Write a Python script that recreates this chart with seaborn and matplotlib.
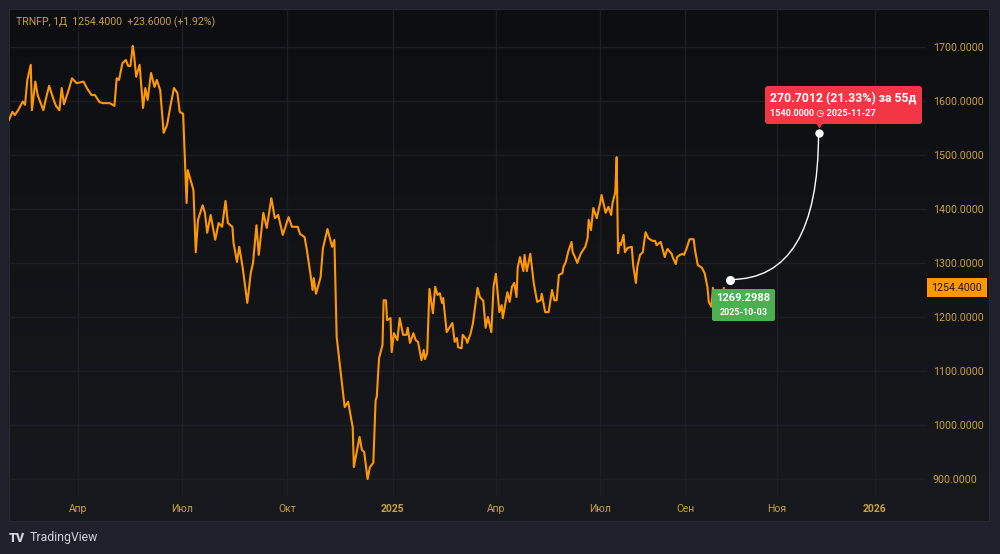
import numpy as np
import pandas as pd
import matplotlib
matplotlib.use("Agg")
import matplotlib.pyplot as plt
import matplotlib.dates as mdates
from matplotlib.ticker import FixedLocator, FuncFormatter
from matplotlib.offsetbox import AnnotationBbox, TextArea, VPacker
from matplotlib.transforms import offset_copy
from matplotlib.patches import Rectangle
from matplotlib.colors import LinearSegmentedColormap
import seaborn as sns

# ---------------- data ----------------
BASE_DATE = "2024-01-01"
# calendar day offsets from BASE_DATE of each sampled daily close
day_offsets = [
    31, 34, 36, 39, 43, 45, 47, 50, 51, 54, 56, 61, 63, 66, 70, 72, 75, 77, 79, 83,
    86, 90, 96, 99, 103, 106, 110, 113, 119, 123, 125, 127, 130, 133, 135, 137, 139, 140, 142, 145,
    148, 150, 152, 155, 158, 160, 163, 166, 169, 172, 175, 178, 180, 183,
    186, 187, 192, 194, 196, 200, 202, 204, 207, 211, 214, 217, 220, 222, 226, 227, 230, 232, 235, 239,
    242, 244, 247, 249, 253, 256, 260, 263, 266, 270, 275, 278, 283, 285, 289, 291, 294, 296, 297, 299,
    303, 305, 309, 313, 315,
    317, 321, 324, 327, 331, 332, 337, 339, 341, 344, 346, 349, 351, 352, 354, 357, 358, 360, 361, 364,
    365, 367, 370, 372, 375, 378, 379, 381, 384, 386, 388, 391, 393, 394, 396, 398, 401, 403, 405, 407,
    409, 410, 413, 418, 420, 422, 423, 426, 427, 430, 431, 434, 436, 440, 442, 445, 447, 449, 452, 454,
    456, 459,
    461, 462, 466, 468, 470, 472, 474, 475, 477, 480, 481, 483, 486, 489, 492, 495, 496, 499, 502, 505,
    507, 509, 511, 514, 515, 517, 519, 522, 523, 525, 527, 530, 534, 536, 537, 539, 541, 544, 547,
    548, 551, 553, 555, 556, 558, 559, 560, 561, 562, 564, 565, 567, 570, 571, 573, 574, 576, 578, 580,
    582, 585, 587, 588, 591, 592, 594, 595, 596, 599, 600, 602, 603, 605, 607, 608, 610, 612, 615, 616,
    618, 620, 621, 623, 625, 626, 628, 629, 630, 632, 633, 634, 636, 637,
]
close_prices = [
    1565, 1580, 1574, 1583, 1599, 1593, 1639, 1667, 1583, 1636, 1611, 1583, 1602, 1628, 1602, 1591, 1583, 1624, 1594, 1620,
    1642, 1633, 1636, 1624, 1611, 1611, 1598, 1596, 1596, 1591, 1642, 1639, 1670, 1676, 1665, 1665, 1702, 1689, 1645, 1667,
    1587, 1624, 1602, 1652, 1626, 1639, 1620, 1541, 1556, 1592, 1624, 1615, 1580, 1576,
    1411, 1472, 1435, 1320, 1380, 1407, 1393, 1356, 1389, 1343, 1374, 1367, 1415, 1374, 1367, 1337, 1302, 1330, 1291, 1226,
    1281, 1300, 1370, 1315, 1393, 1365, 1420, 1383, 1389, 1352, 1385, 1367, 1367, 1354, 1348, 1324, 1281, 1250, 1272, 1243,
    1274, 1327, 1363, 1330, 1343,
    1163, 1089, 1033, 1043, 996, 922, 978, 954, 950, 900, 922, 930, 1046, 1052, 1124, 1148, 1231, 1231, 1194, 1198,
    1135, 1170, 1157, 1198, 1167, 1167, 1180, 1152, 1170, 1157, 1154, 1120, 1139, 1122, 1133, 1252, 1207, 1256, 1241, 1244,
    1226, 1235, 1172, 1189, 1154, 1161, 1144, 1142, 1167, 1159, 1152, 1170, 1189, 1254, 1237, 1230, 1180, 1200, 1172, 1257,
    1280, 1209,
    1222, 1198, 1246, 1228, 1256, 1263, 1237, 1291, 1311, 1285, 1315, 1285, 1317, 1263, 1228, 1231, 1243, 1209, 1209, 1250,
    1231, 1231, 1278, 1281, 1293, 1302, 1320, 1339, 1320, 1311, 1300, 1317, 1330, 1346, 1380, 1361, 1402, 1383, 1411,
    1426, 1393, 1404, 1389, 1411, 1431, 1496, 1318, 1337, 1333, 1352, 1320, 1328, 1330, 1296, 1263, 1293, 1315, 1320, 1357,
    1346, 1341, 1341, 1333, 1339, 1330, 1311, 1320, 1326, 1317, 1309, 1298, 1311, 1315, 1317, 1315, 1328, 1344, 1344, 1324,
    1296, 1293, 1291, 1281, 1256, 1228, 1219, 1254, 1235, 1250, 1231, 1235, 1241, 1254,
]

header_text = "TRNFP, 1Д  1254.4000  +23.6000 (+1.92%)"
last_price = 1254.4
y_ticks = [900, 1000, 1100, 1200, 1300, 1400, 1500, 1600, 1700]
x_tick_dates = ["2024-04-01", "2024-07-01", "2024-10-01", "2025-01-01", "2025-04-01",
                "2025-07-01", "2025-09-01", "2025-11-01", "2026-01-01"]
x_tick_labels = ["Апр", "Июл", "Окт", "2025", "Апр", "Июл", "Сен", "Ноя", "2026"]

forecast_start_date = "2025-10-03"
forecast_start_price = 1269.2988
forecast_end_date = "2025-11-27"
forecast_end_price = 1540.0
forecast_title = "270.7012 (21.33%) за 55д"
forecast_sub = "1540.0000 \u25f7 2025-11-27"
start_title = "1269.2988"
start_sub = "2025-10-03"

# ---------------- style ----------------
sns.set_theme(style="dark")
plt.rcParams["font.family"] = ["Roboto", "DejaVu Sans"]

LINE = "#ff9800"
TEXT = "#c9a13f"
GRID = "#1d1f25"
OUTER = "#1e212c"

W, H = 1000, 554
fig = plt.figure(figsize=(W / 100, H / 100), dpi=100, facecolor=OUTER)

# panel background with a soft vertical gradient
bg = fig.add_axes([9 / W, 1 - 522 / H, 981 / W, 513 / H], zorder=0)
grad = np.linspace(0, 1, 256).reshape(-1, 1)
cmap = LinearSegmentedColormap.from_list("bg", ["#0d0e11", "#17191e"])
bg.imshow(grad, aspect="auto", cmap=cmap, extent=[0, 1, 0, 1], origin="upper")
bg.add_patch(Rectangle((0, 0), 1, 1, transform=bg.transAxes, fill=False,
                       edgecolor="#2a2d38", lw=1.2))
bg.set_axis_off()

ax = fig.add_axes([9 / W, 1 - 496 / H, 917 / W, 487 / H], zorder=1)
ax.set_facecolor("none")

df = pd.DataFrame({
    "date": pd.Timestamp(BASE_DATE) + pd.to_timedelta(day_offsets, unit="D"),
    "close": close_prices,
})
sns.lineplot(data=df, x="date", y="close", ax=ax, color=LINE, linewidth=1.5,
             estimator=None, zorder=3)

# TradingView-like time scale: one step per session (5/week, 6/week later), calendar days in the future
last_date = df["date"].iloc[-1]
kx = mdates.date2num([pd.Timestamp("2015-01-01"), pd.Timestamp("2025-07-01"),
                      last_date, pd.Timestamp("2035-01-01")])
ky = np.array([-(kx[1] - kx[0]) * 5 / 7, 0.0, (kx[2] - kx[1]) * 6 / 7,
               (kx[2] - kx[1]) * 6 / 7 + (kx[3] - kx[2])])


def fwd(x):
    return np.interp(np.asarray(x, dtype=float), kx, ky)


def inv(y):
    return np.interp(np.asarray(y, dtype=float), ky, kx)


ax.set_xscale("function", functions=(fwd, inv))
ax.set_xlim(mdates.date2num(pd.Timestamp(BASE_DATE)) + 31.0,
            mdates.date2num(pd.Timestamp("2026-02-02")))
ax.set_ylim(868.5, 1770.4)

tick_nums = mdates.date2num(pd.to_datetime(x_tick_dates))
ax.set_xticks(tick_nums, labels=x_tick_labels)
ax.yaxis.set_major_locator(FixedLocator(y_ticks))
ax.yaxis.set_major_formatter(FuncFormatter(lambda v, p: f"{v:.4f}"))
ax.yaxis.tick_right()
ax.tick_params(axis="x", length=0, pad=5.5, labelsize=7.5, labelcolor=TEXT)
ax.tick_params(axis="y", length=0, pad=5, labelsize=7.7, labelcolor=TEXT)
for lbl in ax.get_xticklabels():
    if lbl.get_text().isdigit():
        lbl.set_fontweight("bold")
ax.grid(True, color=GRID, lw=1)
ax.set_xlabel("")
ax.set_ylabel("")
for s in ax.spines.values():
    s.set_visible(False)

# header
ax.text(7 / 917, 1 - 13 / 487, header_text, transform=ax.transAxes, color=TEXT,
        fontsize=7.6, va="center", ha="left")

# last price tag on the price scale
ax.annotate(f"{last_price:.4f}", xy=(1.0, last_price), xycoords=("axes fraction", "data"),
            xytext=(4, 0), textcoords="offset points", ha="left", va="center",
            fontsize=7.7, color="#131722", annotation_clip=False,
            bbox=dict(boxstyle="square,pad=0.4", fc=LINE, ec="none"))

# forecast arc
x0 = mdates.date2num(pd.Timestamp(forecast_start_date))
x1 = mdates.date2num(pd.Timestamp(forecast_end_date))
ax.annotate("", xy=(x1, forecast_end_price), xytext=(x0, forecast_start_price),
            arrowprops=dict(arrowstyle="-", color="white", lw=1.0, shrinkA=0, shrinkB=0,
                            connectionstyle="angle3,angleA=0,angleB=90"),
            zorder=4)
ax.plot([x0], [forecast_start_price], marker="o", ms=5.5, color="white", zorder=6)
ax.plot([x1], [forecast_end_price], marker="o", ms=5, color="white", zorder=6)

# red target label
red = VPacker(children=[
    TextArea(forecast_title, textprops=dict(color="white", fontsize=8.8, fontweight="bold")),
    TextArea(forecast_sub, textprops=dict(color="white", fontsize=6.6, fontweight="bold")),
], align="left", pad=0, sep=3)
ax.add_artist(AnnotationBbox(red, (x1, forecast_end_price), xybox=(18, 11),
                             boxcoords="offset points", box_alignment=(0.5, 0),
                             frameon=True, fontsize=8, annotation_clip=False,
                             bboxprops=dict(boxstyle="round,pad=0.5,rounding_size=0.25",
                                            fc="#f23645", ec="none"), zorder=7))
ax.plot([x1], [forecast_end_price], marker="v", ms=5, color="#f23645", zorder=7,
        transform=offset_copy(ax.transData, fig=fig, x=0, y=6.5, units="points"))

# green start label
green = VPacker(children=[
    TextArea(start_title, textprops=dict(color="white", fontsize=8, fontweight="bold")),
    TextArea(start_sub, textprops=dict(color="white", fontsize=6.5, fontweight="bold")),
], align="center", pad=0, sep=3)
ax.add_artist(AnnotationBbox(green, (x0, forecast_start_price), xybox=(9.5, -10),
                             boxcoords="offset points", box_alignment=(0.5, 1),
                             frameon=True, fontsize=7, annotation_clip=False,
                             bboxprops=dict(boxstyle="round,pad=0.5,rounding_size=0.25",
                                            fc="#4caf50", ec="none"), zorder=7))

# branding
fig.text(9 / W, 1 - 538 / H, "TV", color="#d1d4dc", fontsize=9, fontweight="black",
         va="center", ha="left")
fig.text(30 / W, 1 - 538 / H, "TradingView", color="#d1d4dc", fontsize=8.8,
         va="center", ha="left")

fig.savefig("out.png", dpi=100, facecolor=OUTER)
